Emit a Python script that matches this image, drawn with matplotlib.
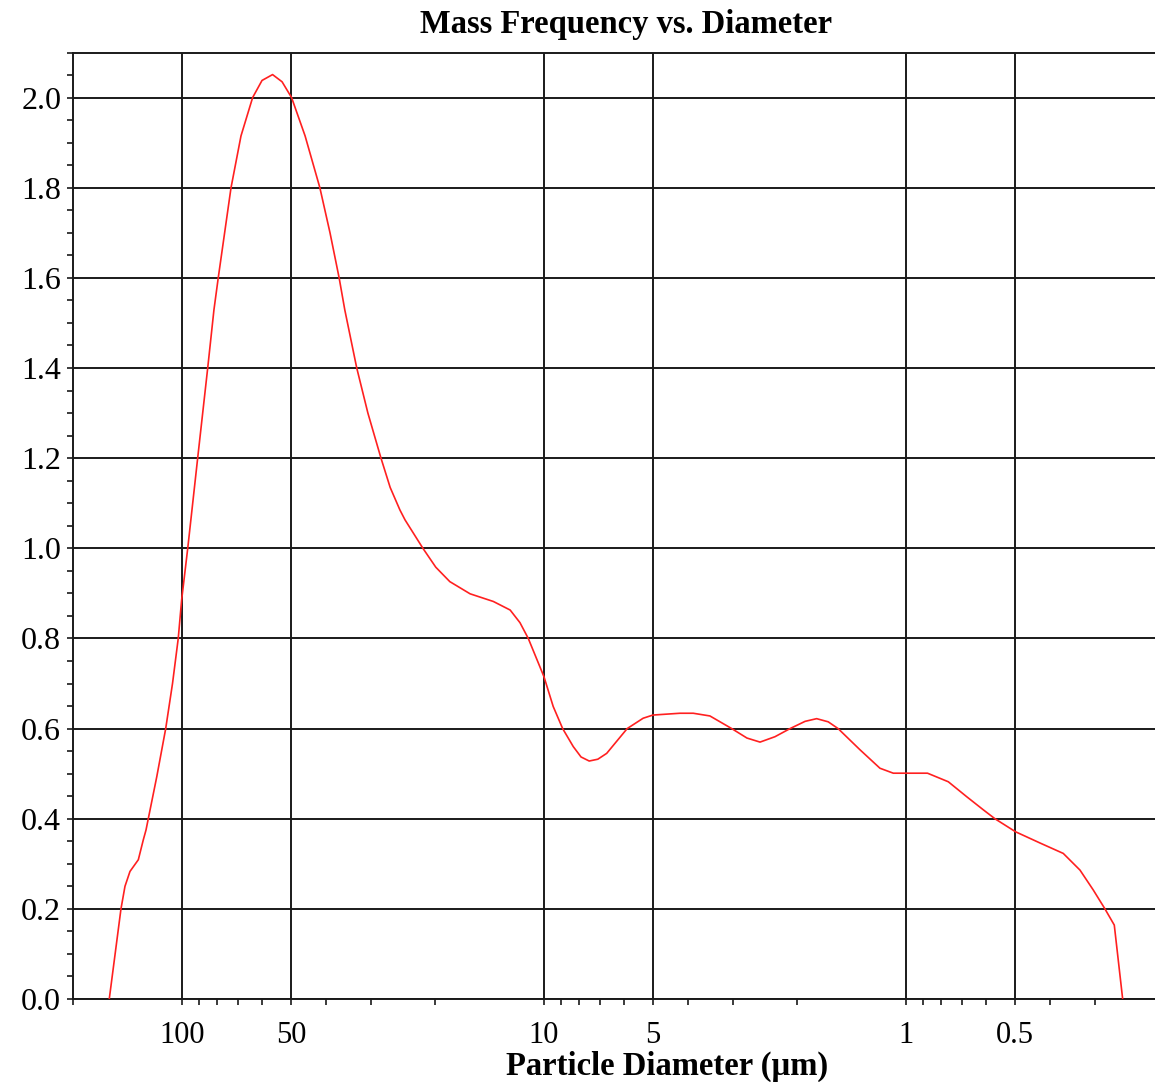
import matplotlib
matplotlib.use("Agg")
import matplotlib.pyplot as plt
from matplotlib.ticker import FixedLocator, NullFormatter

# Particle diameter (um) and mass frequency
diameter = [158.8, 147.4, 143.7, 139.2, 132.0, 127.9, 125.7, 123.9, 117.4, 110.9,
            106.2, 102.4, 100.2, 96.4, 90.5, 84.9, 81.6, 79.4, 73.2, 68.7,
            63.8, 60.1, 56.2, 52.9, 49.8, 45.7, 41.6, 39.0, 36.8, 35.5,
            32.9, 30.65, 28.2, 26.6, 25.0, 24.2, 21.6, 19.9, 18.2, 16.0,
            13.8, 12.4, 11.65, 11.05, 10.0, 9.43, 8.88, 8.30, 7.9, 7.50,
            7.1, 6.71, 5.89, 5.32, 5.0, 4.21, 3.87, 3.48, 3.03, 2.75,
            2.53, 2.3, 2.09, 1.9, 1.765, 1.64, 1.54, 1.34, 1.18, 1.084,
            0.872, 0.764, 0.680, 0.612, 0.568, 0.498, 0.426, 0.3677, 0.3306, 0.3039,
            0.2821, 0.2658, 0.2520]
mass_freq = [0.0, 0.2, 0.25, 0.283, 0.309, 0.353, 0.375, 0.4, 0.493, 0.6,
             0.7, 0.8, 0.886, 1.0, 1.2, 1.4, 1.529, 1.6, 1.8, 1.915,
             2.0, 2.038, 2.051, 2.035, 2.0, 1.915, 1.8, 1.70, 1.6, 1.529,
             1.4, 1.30, 1.2, 1.135, 1.085, 1.063, 1.0, 0.958, 0.926, 0.899,
             0.882, 0.863, 0.835, 0.8, 0.715, 0.649, 0.6, 0.56, 0.537, 0.528,
             0.532, 0.545, 0.6, 0.623, 0.630, 0.634, 0.634, 0.628, 0.6, 0.579,
             0.570, 0.582, 0.6, 0.616, 0.622, 0.615, 0.6, 0.553, 0.512, 0.501,
             0.501, 0.482, 0.449, 0.42, 0.4, 0.371, 0.346, 0.323, 0.286, 0.242,
             0.2, 0.164, 0.0]

major_x = [100, 50, 10, 5, 1, 0.5]
major_x_labels = ["100", "50", "10", "5", "1", "0.5"]
minor_x = [200, 90, 80, 70, 60, 40, 30, 20, 9, 8, 7, 6, 4, 3, 2,
           0.9, 0.8, 0.7, 0.6, 0.4, 0.3]
major_y = [0.0, 0.2, 0.4, 0.6, 0.8, 1.0, 1.2, 1.4, 1.6, 1.8, 2.0]

title = "Mass Frequency vs. Diameter"
xlabel = "Particle Diameter (\u00b5m)"

plt.rcParams['font.family'] = ['Liberation Serif', 'DejaVu Serif']

W, H = 1155, 1082
fig = plt.figure(figsize=(W / 100, H / 100), dpi=100)
left_px, right_px, bottom_px, top_px = 73, 1159, 999, 52.5
ax = fig.add_axes([left_px / W, 1 - bottom_px / H,
                   (right_px - left_px) / W, (bottom_px - top_px) / H])

ax.plot(diameter, mass_freq, color='#ff2020', lw=1.2, zorder=3,
        solid_joinstyle='round')

ax.set_xscale('log')
ax.set_xlim(200, 0.2)
ax.set_ylim(0, 2.1)

ax.xaxis.set_major_locator(FixedLocator(major_x))
ax.set_xticklabels(major_x_labels)
ax.xaxis.set_minor_locator(FixedLocator(minor_x))
ax.xaxis.set_minor_formatter(NullFormatter())

ax.set_yticks(major_y)
ax.set_yticklabels([f"{v:.1f}" for v in major_y])
ax.yaxis.set_minor_locator(FixedLocator([i * 0.05 for i in range(43) if i % 4 != 0]))

ax.grid(True, which='major', color='#1a1a1a', lw=1.4)
ax.set_axisbelow(True)

for s in ax.spines.values():
    s.set_color('#1a1a1a')
    s.set_linewidth(1.4)

ax.tick_params(axis='both', which='both', direction='out', length=4.5,
               width=1.2, color='#1a1a1a')
ax.tick_params(axis='x', which='major', labelsize=22, pad=11)
ax.tick_params(axis='y', which='major', labelsize=23, pad=4)

fig.text(626 / W, 1 - 33 / H, title, ha='center', va='baseline',
         fontsize=23.5, fontweight='bold')
fig.text(667 / W, 1 - 1075 / H, xlabel, ha='center', va='baseline',
         fontsize=23.5, fontweight='bold')

fig.savefig("out.png", dpi=100)
